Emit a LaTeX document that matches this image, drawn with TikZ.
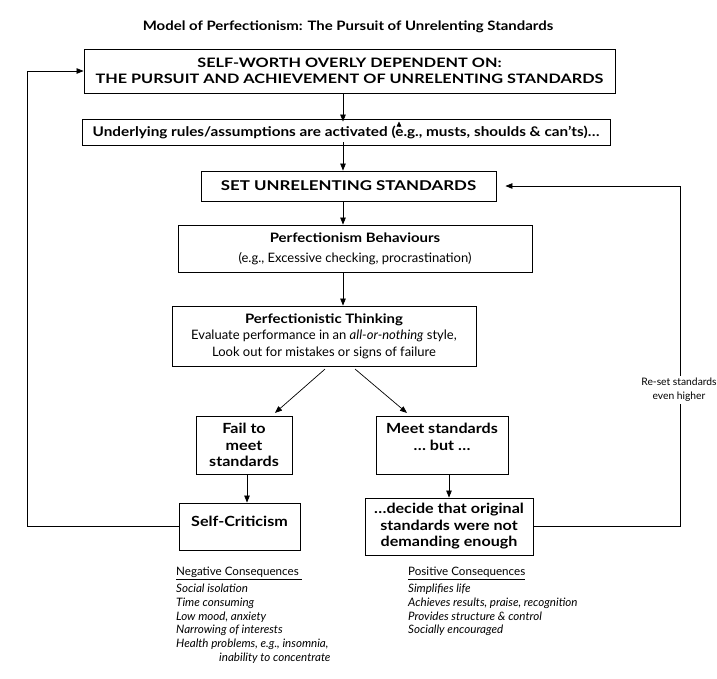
\documentclass[tikz,border=0pt]{standalone}
\usepackage{fontspec}
\setmainfont{Lato}[BoldFeatures={FakeStretch=1.15}]
\newfontfamily\capsfont{Lato}[FakeStretch=1.25]
\usetikzlibrary{arrows.meta}
\begin{document}
\begin{tikzpicture}[x=1pt,y=-1pt,
  box/.style={draw,line width=0.9pt,align=center,inner sep=0pt},
  bf/.style={font=\fontsize{13}{16}\selectfont\bfseries},
  bfs/.style={font=\fontsize{14}{16.5}\selectfont\bfseries},
  cp/.style={font=\fontsize{13}{16}\selectfont\capsfont\bfseries},
  arr/.style={line width=0.7pt,-{Triangle[length=7pt,width=5.5pt]}},
  loop/.style={line width=0.7pt},
  cons/.style={anchor=north west,align=left,inner sep=0pt,font=\fontsize{11.6}{13.8}\selectfont}
]
\useasboundingbox[fill=white] (0,0) rectangle (717,678);

\node[bf] (title) at (348,27) {Model of Perfectionism: The Pursuit of Unrelenting Standards};

\node[box,cp,minimum width=531pt,minimum height=44pt] (b1) at (349.5,71)
  {SELF-WORTH OVERLY DEPENDENT ON:\\THE PURSUIT AND ACHIEVEMENT OF UNRELENTING STANDARDS};
\node[box,font=\fontsize{13.3}{16}\selectfont\bfseries,minimum width=528pt,minimum height=26pt] (b2) at (346,132)
  {Underlying rules/assumptions are activated (e.g., musts, shoulds \& can’ts)…};
\node[box,font=\fontsize{13.5}{16}\selectfont\capsfont\bfseries,minimum width=295pt,minimum height=30pt] (b3) at (348.5,186)
  {SET UNRELENTING STANDARDS};
\node[box,minimum width=354pt,minimum height=47pt,font=\fontsize{13}{20}\selectfont] (b4) at (355,248.5)
  {\textbf{Perfectionism Behaviours}\\(e.g., Excessive checking, procrastination)};
\node[box,minimum width=304pt,minimum height=60pt,font=\fontsize{13}{16.5}\selectfont] (b5) at (324,336)
  {\textbf{Perfectionistic Thinking}\\Evaluate performance in an \textit{all-or-nothing} style,\\Look out for mistakes or signs of failure};
\node[box,bfs,minimum width=96pt,minimum height=58pt] (b6) at (244,445)
  {Fail to\\meet\\standards};
\node[box,bfs,minimum width=132pt,minimum height=58pt] (b7) at (442,445)
  {Meet standards\\… but …\\\mbox{}};
\node[box,bfs,font=\fontsize{14}{11}\selectfont\bfseries,minimum width=121pt,minimum height=47pt] (b8) at (239.5,526.5)
  {Self-Criticism\\\mbox{}};
\node[box,bfs,minimum width=168pt,minimum height=57pt] (b9) at (449,526.5)
  {…decide that original\\standards were not\\demanding enough};

\coordinate (axis) at (343,0);
\coordinate (dlA) at (328,0);
\coordinate (dlB) at (272,0);
\coordinate (drA) at (352,0);
\coordinate (drB) at (410,0);
\coordinate (fx) at (247,0);
\coordinate (leftx) at (27,0);
\coordinate (rightx) at (680,0);

\draw[arr] (b1.south -| axis) -- ([yshift=-3pt]b2.north -| axis);
\draw[arr] ([yshift=3pt]b2.south -| axis) -- (b3.north -| axis);
\draw[arr] (b3.south -| axis) -- (b4.north -| axis);
\draw[arr] (b4.south -| axis) -- (b5.north -| axis);
\draw[arr,shorten <=4pt,shorten >=4pt] (b5.south -| dlA) -- (b6.north -| dlB);
\draw[arr,shorten <=4pt,shorten >=4pt] (b5.south -| drA) -- (b7.north -| drB);
\draw[arr] (b6.south -| fx) -- (b8.north -| fx);
\draw[arr] (b7.south -| b9) -- (b9.north);
% small stray arrowhead inside box 2
\draw[line width=0.6pt,-{Triangle[length=5pt,width=4.5pt]}] (399,127) -- (399,121.5);

\draw[loop] (b8.west) -- (b8.west -| leftx);
\draw[arr] (b8.west -| leftx) -- (b1.west -| leftx) -- (b1.west);
\draw[loop] (b9.east) -- (b9.east -| rightx) -- (rightx |- b3.east);
\draw[arr,shorten >=9pt] (rightx |- b3.east) -- (b3.east);
\node[fill=white,align=center,inner sep=2pt,font=\fontsize{10.3}{14}\selectfont] (lbl) at (679,390)
  {Re-set standards\\even higher};

\node[cons] (neg) at (176,567)
  {\underline{Negative Consequences\ }\\[3pt]
   \textit{Social isolation}\\
   \textit{Time consuming}\\
   \textit{Low mood, anxiety}\\
   \textit{Narrowing of interests}\\
   \textit{Health problems, e.g., insomnia,}\\
   \hspace*{43pt}\textit{inability to concentrate}};
\node[cons] (pos) at (408,567)
  {\underline{Positive Consequences}\\[3pt]
   \textit{Simplifies life}\\
   \textit{Achieves results, praise, recognition}\\
   \textit{Provides structure \& control}\\
   \textit{Socially encouraged}};
\end{tikzpicture}
\end{document}
